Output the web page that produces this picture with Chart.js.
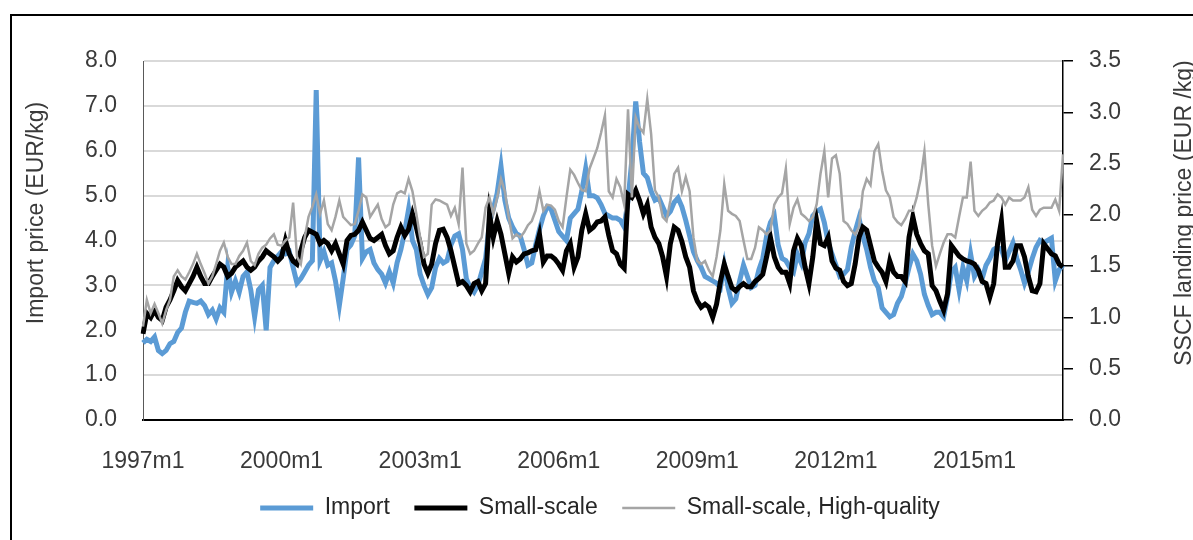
<!DOCTYPE html>
<html>
<head>
<meta charset="utf-8">
<script src="https://cdn.jsdelivr.net/npm/chart.js@4.4.0/dist/chart.umd.min.js"></script>
<style>
html, body { margin: 0; padding: 0; background: #fff; overflow: hidden; }
#wrap { position: relative; width: 1193px; height: 540px; overflow: hidden; }
#chart { position: absolute; left: 0; top: 0; }
#frame { position: absolute; left: 10px; top: 14px; width: 1300px; height: 700px; border: 2px solid #000; box-sizing: border-box; pointer-events: none; }
</style>
</head>
<body>
<div id="wrap">
  <canvas id="chart" width="1200" height="540" style="width:1200px;height:540px"></canvas>
  <div id="frame"></div>
</div>
<script>
// months 1997m1 .. 2016m12
var firstYear = 1997, lastYear = 2016;
var months = [];
for (var y = firstYear; y <= lastYear; y++) {
  for (var m = 1; m <= 12; m++) months.push(y + "m" + m);
}
var xLabelEvery = 36;

var leftTicks = [0, 1, 2, 3, 4, 5, 6, 7, 8];
var rightTicks = [0, 0.5, 1, 1.5, 2, 2.5, 3, 3.5];

var leftTitle = "Import price (EUR/kg)";
var rightTitle = "SSCF landing price (EUR /kg)";

// Import price, EUR/kg (left axis)
var importPrice = [
  1.72, 1.80, 1.75, 1.85, 1.55, 1.48, 1.55, 1.70, 1.75, 1.95, 2.05, 2.40,
  2.65, 2.62, 2.60, 2.65, 2.55, 2.35, 2.45, 2.25, 2.50, 2.40, 3.40, 2.85,
  3.10, 2.85, 3.20, 3.30, 2.90, 2.30, 2.90, 3.00, 2.00, 3.40, 3.55, 3.65,
  3.75, 3.70, 3.75, 3.40, 3.05, 3.15, 3.30, 3.45, 3.55, 7.35, 3.55, 3.75,
  3.45, 3.50, 3.10, 2.55, 3.15, 3.80, 3.90, 4.10, 5.85, 3.60, 3.75, 3.80,
  3.50, 3.35, 3.25, 3.05, 3.30, 3.05, 3.50, 3.80, 4.20, 4.70, 4.00, 3.80,
  3.25, 3.00, 2.80, 2.95, 3.40, 3.60, 3.50, 3.55, 3.90, 4.10, 4.15, 3.80,
  3.15, 2.95, 2.85, 3.00, 3.30, 3.60, 4.40, 4.70, 5.05, 5.65, 4.90, 4.50,
  4.30, 4.15, 4.10, 3.80, 3.45, 3.50, 3.90, 4.25, 4.55, 4.75, 4.70, 4.45,
  4.20, 4.10, 4.00, 4.50, 4.60, 4.70, 5.10, 5.60, 5.00, 5.00, 4.95, 4.80,
  4.60, 4.55, 4.50, 4.50, 4.45, 4.30, 4.90, 5.80, 7.10, 6.20, 5.50, 5.40,
  5.10, 4.90, 4.95, 4.75, 4.55, 4.65, 4.85, 4.95, 4.75, 4.45, 4.10, 3.75,
  3.55, 3.40, 3.20, 3.15, 3.10, 3.05, 2.95, 3.45, 2.95, 2.60, 2.70, 3.10,
  3.45, 3.20, 2.95, 3.00, 3.35, 3.60, 4.10, 4.40, 4.55, 3.90, 3.60, 3.55,
  3.40, 3.30, 3.70, 3.50, 3.95, 4.15, 4.55, 4.65, 4.70, 4.40, 3.95, 3.70,
  3.45, 3.20, 3.25, 3.35, 3.85, 4.20, 4.50, 4.10, 3.80, 3.40, 3.10, 2.95,
  2.50, 2.40, 2.30, 2.35, 2.60, 2.75, 3.05, 3.40, 3.70, 3.55, 3.25, 2.80,
  2.55, 2.35, 2.40, 2.40, 2.30, 2.75, 3.30, 3.40, 2.90, 3.40, 3.10, 3.70,
  3.20, 3.35, 3.15, 3.45, 3.60, 3.80, 3.85, 3.80, 3.55, 3.75, 3.95, 3.60,
  3.35, 3.05, 3.30, 3.60, 3.85, 4.00, 3.95, 4.00, 4.05, 3.10, 3.35, 3.45
];

// Small-scale landing price, EUR/kg (right axis)
var smallScale = [
  0.84, 1.04, 1.00, 1.07, 1.00, 0.97, 1.10, 1.17, 1.26, 1.36, 1.30, 1.26,
  1.33, 1.40, 1.49, 1.40, 1.33, 1.33, 1.40, 1.46, 1.52, 1.49, 1.40, 1.43,
  1.49, 1.52, 1.55, 1.49, 1.46, 1.49, 1.55, 1.59, 1.65, 1.62, 1.59, 1.55,
  1.59, 1.75, 1.62, 1.55, 1.52, 1.65, 1.78, 1.85, 1.83, 1.81, 1.72, 1.75,
  1.72, 1.65, 1.72, 1.62, 1.52, 1.75, 1.80, 1.81, 1.85, 1.93, 1.85, 1.77,
  1.75, 1.78, 1.81, 1.70, 1.62, 1.65, 1.78, 1.88, 1.80, 1.86, 2.01, 1.88,
  1.72, 1.52, 1.43, 1.52, 1.72, 1.85, 1.86, 1.78, 1.65, 1.49, 1.33, 1.35,
  1.31, 1.25, 1.33, 1.35, 1.26, 1.33, 2.01, 1.78, 1.94, 1.81, 1.62, 1.43,
  1.59, 1.54, 1.57, 1.62, 1.63, 1.65, 1.66, 1.81, 1.54, 1.60, 1.60, 1.57,
  1.52, 1.46, 1.65, 1.72, 1.49, 1.59, 1.85, 2.01, 1.85, 1.88, 1.93, 1.94,
  1.98, 1.80, 1.65, 1.62, 1.52, 1.48, 2.20, 2.17, 2.24, 2.14, 2.01, 2.10,
  1.88, 1.78, 1.72, 1.59, 1.40, 1.72, 1.88, 1.85, 1.74, 1.59, 1.49, 1.26,
  1.16, 1.10, 1.13, 1.10, 1.00, 1.13, 1.35, 1.52, 1.40, 1.29, 1.26, 1.30,
  1.33, 1.30, 1.30, 1.35, 1.38, 1.42, 1.59, 1.78, 1.59, 1.49, 1.44, 1.44,
  1.33, 1.65, 1.77, 1.70, 1.49, 1.33, 1.59, 1.94, 1.72, 1.70, 1.78, 1.55,
  1.48, 1.46, 1.35, 1.31, 1.33, 1.52, 1.78, 1.88, 1.85, 1.70, 1.55, 1.49,
  1.44, 1.35, 1.55, 1.44, 1.40, 1.40, 1.35, 1.78, 1.98, 1.81, 1.72, 1.65,
  1.62, 1.31, 1.26, 1.16, 1.07, 1.23, 1.70, 1.65, 1.60, 1.57, 1.55, 1.54,
  1.52, 1.46, 1.35, 1.33, 1.20, 1.33, 1.72, 1.94, 1.49, 1.49, 1.55, 1.70,
  1.70, 1.59, 1.40, 1.26, 1.25, 1.33, 1.72, 1.67, 1.62, 1.60, 1.52, 1.49
];

// Small-scale, high-quality landing price, EUR/kg (right axis)
var highQuality = [
  0.91, 1.17, 1.04, 1.13, 1.04, 0.94, 1.07, 1.17, 1.40, 1.46, 1.40, 1.37,
  1.44, 1.52, 1.62, 1.52, 1.43, 1.33, 1.40, 1.52, 1.65, 1.73, 1.59, 1.52,
  1.52, 1.60, 1.65, 1.73, 1.55, 1.51, 1.62, 1.68, 1.71, 1.77, 1.81, 1.71,
  1.70, 1.75, 1.78, 2.12, 1.59, 1.52, 1.78, 1.98, 2.08, 2.20, 2.01, 2.14,
  1.91, 1.85, 1.98, 2.14, 1.98, 1.94, 1.90, 1.91, 2.04, 2.20, 2.17, 1.98,
  2.04, 2.10, 1.96, 1.88, 1.91, 2.10, 2.21, 2.23, 2.21, 2.35, 2.23, 2.01,
  1.78, 1.59, 1.62, 2.10, 2.15, 2.14, 2.12, 2.10, 1.99, 2.07, 1.91, 2.46,
  1.72, 1.62, 1.65, 1.72, 1.78, 2.07, 2.17, 2.01, 2.17, 2.35, 2.23, 1.98,
  1.77, 1.81, 1.78, 1.83, 1.90, 1.94, 2.04, 2.23, 2.04, 2.10, 2.09, 2.05,
  1.94, 1.88, 2.17, 2.44, 2.39, 2.31, 2.24, 2.23, 2.45, 2.55, 2.65, 2.80,
  2.97, 2.23, 2.17, 2.35, 2.27, 2.10, 3.03, 2.17, 2.95, 2.85, 2.80, 3.13,
  2.79, 2.24, 2.17, 1.98, 1.94, 2.14, 2.40, 2.46, 2.23, 2.37, 2.23, 1.78,
  1.55, 1.52, 1.55, 1.46, 1.40, 1.59, 1.85, 2.30, 2.04, 2.01, 1.99, 1.94,
  1.75, 1.57, 1.57, 1.68, 1.88, 1.85, 1.81, 1.85, 2.10, 2.17, 2.21, 2.45,
  1.91, 2.07, 2.15, 2.01, 1.98, 1.94, 1.98, 2.10, 2.40, 2.62, 2.17, 2.55,
  2.58, 2.40, 1.94, 1.91, 1.85, 1.81, 1.88, 2.23, 2.35, 2.29, 2.62, 2.69,
  2.43, 2.24, 2.17, 1.98, 1.93, 1.90, 1.96, 2.04, 2.04, 2.17, 2.35, 2.62,
  2.10, 1.70, 1.50, 1.62, 1.73, 1.81, 1.81, 1.78, 1.98, 2.17, 2.17, 2.52,
  2.04, 1.99, 2.04, 2.07, 2.12, 2.14, 2.20, 2.17, 2.10, 2.17, 2.14, 2.14,
  2.14, 2.17, 2.27, 2.05, 1.99, 2.05, 2.07, 2.07, 2.07, 2.15, 2.04, 2.59
];

var FONT = "'Liberation Sans', Arial, sans-serif";
var TEXT = "#3a3a3a";

Chart.defaults.font.family = FONT;
Chart.defaults.font.size = 23;
Chart.defaults.color = TEXT;

// axis titles drawn reading bottom-to-top on both sides
var axisTitles = {
  id: "axisTitles",
  afterDraw: function (chart) {
    var ctx = chart.ctx, area = chart.chartArea;
    var cy = area.top + 152;
    ctx.save();
    ctx.font = "23px " + FONT;
    ctx.fillStyle = TEXT;
    ctx.textAlign = "center";
    ctx.textBaseline = "middle";
    [[37, leftTitle], [1185, rightTitle]].forEach(function (t) {
      ctx.save();
      ctx.translate(t[0], cy);
      ctx.rotate(-Math.PI / 2);
      ctx.fillText(t[1], 0, 0);
      ctx.restore();
    });
    ctx.restore();
  }
};

function line(label, data, color, width, axis, order) {
  return {
    label: label,
    data: data,
    yAxisID: axis,
    borderColor: color,
    backgroundColor: color,
    borderWidth: width,
    pointRadius: 0,
    pointHoverRadius: 0,
    pointBorderWidth: width,
    pointBorderColor: color,
    pointBackgroundColor: color,
    tension: 0,
    order: order
  };
}

new Chart(document.getElementById("chart"), {
  type: "line",
  data: {
    labels: months,
    datasets: [
      line("Import", importPrice, "#5B9BD5", 5, "yL", 3),
      line("Small-scale", smallScale, "#000000", 5, "yR", 2),
      line("Small-scale, High-quality", highQuality, "#A5A5A5", 2.5, "yR", 1)
    ]
  },
  options: {
    responsive: false,
    animation: false,
    layout: { padding: { top: 61, left: 0, right: 0, bottom: 10.5 } },
    plugins: {
      tooltip: { enabled: false },
      legend: {
        position: "bottom",
        labels: {
          usePointStyle: true,
          pointStyle: "line",
          pointStyleWidth: 53,
          padding: 24.5,
          color: "#262626",
          font: { size: 23 },
          sort: function (a, b) { return a.datasetIndex - b.datasetIndex; }
        }
      }
    },
    scales: {
      x: {
        type: "category",
        offset: false,
        grid: { display: false },
        border: { display: true, color: "#000", width: 2 },
        ticks: {
          autoSkip: false,
          maxRotation: 0,
          padding: 24,
          font: { size: 23, lineHeight: 0.8 },
          callback: function (v, i) { return i % xLabelEvery === 0 ? months[i] : null; }
        },
        afterFit: function (s) { s.height = 52; }
      },
      yL: {
        position: "left",
        min: 0,
        max: 8,
        afterBuildTicks: function (s) { s.ticks = leftTicks.map(function (v) { return { value: v }; }); },
        grid: { color: "#D9D9D9", lineWidth: 2, drawTicks: false },
        border: { display: true, color: "#595959", width: 1 },
        ticks: { padding: 26, callback: function (v) { return Number(v).toFixed(1); } },
        afterFit: function (s) { s.width = 143; }
      },
      yR: {
        position: "right",
        min: 0,
        max: 3.5,
        afterBuildTicks: function (s) { s.ticks = rightTicks.map(function (v) { return { value: v }; }); },
        grid: { drawOnChartArea: false, drawTicks: true, tickLength: 10, color: "#000", lineWidth: 1.5 },
        border: { display: true, color: "#000", width: 1.5 },
        ticks: { padding: 16, callback: function (v) { return Number(v).toFixed(1); } },
        afterFit: function (s) { s.width = 137; }
      }
    }
  },
  plugins: [axisTitles]
});
</script>
</body>
</html>
